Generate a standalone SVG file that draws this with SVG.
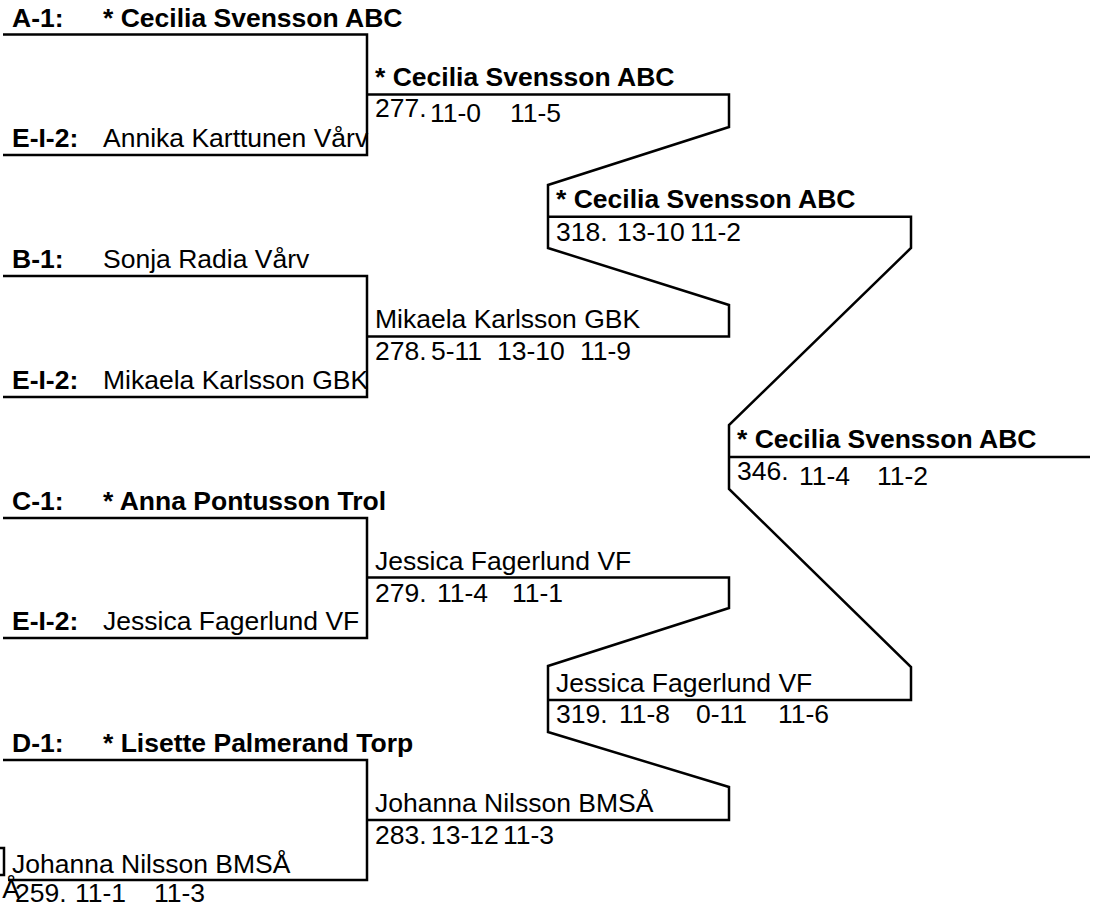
<svg xmlns="http://www.w3.org/2000/svg" width="1101" height="910" viewBox="0 0 1101 910">
<style>
text{font-family:"Liberation Sans",Arial,sans-serif;font-size:26.5px;fill:#000}
.b{font-weight:bold}
.ln{fill:none;stroke:#000;stroke-width:2.5;stroke-linejoin:miter}
</style>
<rect width="1101" height="910" fill="#fff"/>
<g id="connectors">
<path class="ln" d="M3,34.5H367V155H3"/>
<path class="ln" d="M3,276H367V397H3"/>
<path class="ln" d="M3,518H367V638H3"/>
<path class="ln" d="M3,760H367V880H8"/>
<path class="ln" d="M367,94.5H729V127L548,185V248L729,305V336.5H367"/>
<path class="ln" d="M367,577.5H729V608L548,666V732L729,787V820H367"/>
<path class="ln" d="M548,216.7H911V248L729,425V489L911,667V700H548"/>
<path class="ln" d="M729,457H1090"/>
<path class="ln" d="M-3,848H4V875H-3"/>
</g>
<g id="entry-a1"><text x="12" y="27" class="b">A-1:</text><text x="103" y="27" class="b">* Cecilia Svensson ABC</text></g>
<g id="entry-ei2-1"><text x="12" y="147" class="b">E-I-2:</text><text x="103" y="147">Annika Karttunen Vårv</text></g>
<g id="entry-b1"><text x="12" y="268" class="b">B-1:</text><text x="103" y="268">Sonja Radia Vårv</text></g>
<g id="entry-ei2-2"><text x="12" y="389" class="b">E-I-2:</text><text x="103" y="389">Mikaela Karlsson GBK</text></g>
<g id="entry-c1"><text x="12" y="510" class="b">C-1:</text><text x="103" y="510" class="b">* Anna Pontusson Trol</text></g>
<g id="entry-ei2-3"><text x="12" y="630" class="b">E-I-2:</text><text x="103" y="630">Jessica Fagerlund VF</text></g>
<g id="entry-d1"><text x="12" y="752" class="b">D-1:</text><text x="103" y="752" class="b">* Lisette Palmerand Torp</text></g>
<g id="match-259"><text x="12" y="873">Johanna Nilsson BMSÅ</text><text x="11" y="898" text-anchor="middle">Å</text><text x="15" y="902">259.</text><text y="902"><tspan x="75">11-1</tspan><tspan x="154">11-3</tspan></text></g>
<g id="match-277"><text x="375" y="86" class="b">* Cecilia Svensson ABC</text><text x="375" y="117">277.</text><text y="122"><tspan x="430">11-0</tspan><tspan x="510">11-5</tspan></text></g>
<g id="match-278"><text x="375" y="328">Mikaela Karlsson GBK</text><text x="375" y="360">278.</text><text y="360"><tspan x="431">5-11</tspan><tspan x="497">13-10</tspan><tspan x="580">11-9</tspan></text></g>
<g id="match-279"><text x="375" y="570">Jessica Fagerlund VF</text><text x="375" y="602">279.</text><text y="602"><tspan x="437">11-4</tspan><tspan x="512">11-1</tspan></text></g>
<g id="match-283"><text x="375" y="812">Johanna Nilsson BMSÅ</text><text x="375" y="844">283.</text><text y="844"><tspan x="431">13-12</tspan><tspan x="503">11-3</tspan></text></g>
<g id="match-318"><text x="556" y="208" class="b">* Cecilia Svensson ABC</text><text x="556" y="241">318.</text><text y="241"><tspan x="617">13-10</tspan><tspan x="690">11-2</tspan></text></g>
<g id="match-319"><text x="556" y="692">Jessica Fagerlund VF</text><text x="556" y="723">319.</text><text y="723"><tspan x="619">11-8</tspan><tspan x="696">0-11</tspan><tspan x="778">11-6</tspan></text></g>
<g id="match-346"><text x="737" y="448" class="b">* Cecilia Svensson ABC</text><text x="737" y="480">346.</text><text y="485"><tspan x="799">11-4</tspan><tspan x="877">11-2</tspan></text></g>
</svg>
